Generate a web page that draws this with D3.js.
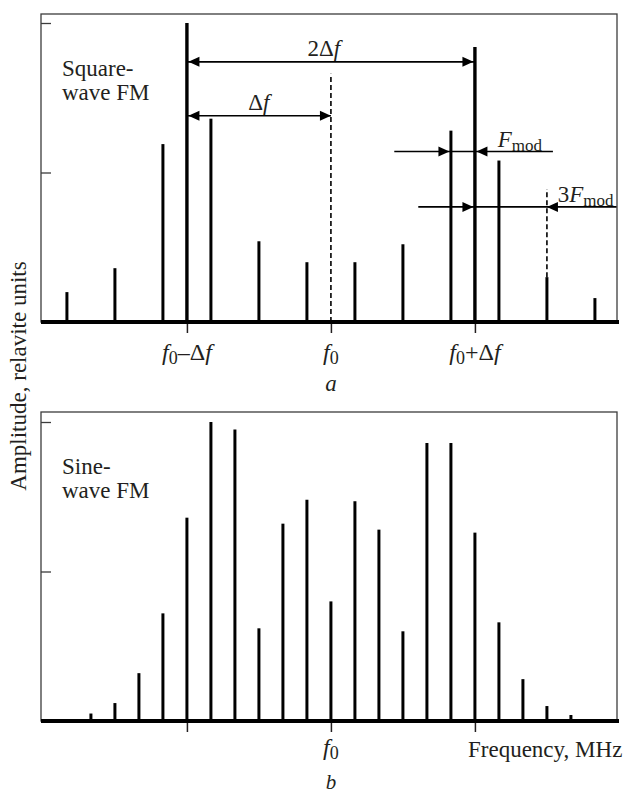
<!DOCTYPE html>
<html>
<head>
<meta charset="utf-8">
<script src="https://cdn.jsdelivr.net/npm/d3@7"></script>
<style>
  body { margin: 0; background: #fff; }
  svg { display: block; }
  text { font-family: "Liberation Serif", "DejaVu Serif", serif; fill: #231f20; }
</style>
</head>
<body>
<svg id="chart" width="625" height="794"></svg>
<script>
// harmonic numbers are in units of Fmod, f0 = 0, deviation = 6 Fmod
const squareHarm = [-11, -9, -7, -5, -3, -1, 1, 3, 5, 7, 9, 11];
const squareAmp = [0.10, 0.18, 0.595, 0.68, 0.27, 0.20, 0.20, 0.26, 0.64, 0.54, 0.15, 0.08];
const carrierHarm = [-6, 6];
const carrierAmp = [1.0, 0.92];

const sineHarm = [-10, -9, -8, -7, -6, -5, -4, -3, -2, -1, 0, 1, 2, 3, 4, 5, 6, 7, 8, 9, 10];
const sineAmp = [0.025, 0.06, 0.16, 0.36, 0.68, 1.0, 0.975, 0.31, 0.66, 0.74, 0.40,
                 0.735, 0.64, 0.30, 0.93, 0.93, 0.63, 0.33, 0.14, 0.05, 0.02];

const tickPos = [-6, 0, 6];
const topTickLabels = ["f0–Δf", "f0", "f0+Δf"];
const bottomTickLabels = ["", "f0", ""];
const ampTicks = [0.5, 1];

const svg = d3.select("#chart");
const left = 41, right = 617, plotH = 299;
const fs = 23;

const x = d3.scaleLinear().domain([-12.08, 11.92]).range([left, right]);

// writes "f0" style strings: f italic, 0 as subscript
function richText(sel, str, size) {
    let sub = false;
    for (const ch of str) {
        const t = sel.append("tspan").text(ch);
        if (ch === "0") {
            t.attr("font-size", size * 0.75).attr("dy", 4);
            sub = true;
        } else {
            if (sub) { t.attr("dy", -4); sub = false; }
            if (ch === "f") t.attr("font-style", "italic");
        }
    }
}

function panel(top, axisY, harm, amp, tickLabels, labelY) {
    const y = d3.scaleLinear().domain([0, 1]).range([axisY, axisY - plotH]);
    const g = svg.append("g");

    g.append("rect")
        .attr("x", left).attr("y", top)
        .attr("width", right - left).attr("height", axisY - top)
        .attr("fill", "none").attr("stroke", "#3c3c3c").attr("stroke-width", 1.3);

    const yAxis = g.append("g")
        .attr("transform", `translate(${left},0)`)
        .call(d3.axisRight(y).tickValues(ampTicks).tickSize(10).tickFormat(""));
    yAxis.select(".domain").remove();
    yAxis.selectAll("line").attr("stroke", "#3c3c3c").attr("stroke-width", 1.3);

    const xAxis = g.append("g")
        .attr("transform", `translate(0,${axisY})`)
        .call(d3.axisBottom(x).tickValues(tickPos).tickSize(11).tickFormat(""));
    xAxis.select(".domain").remove();
    xAxis.selectAll("line").attr("stroke", "#231f20").attr("stroke-width", 1.5);

    tickPos.forEach((p, i) => {
        if (!tickLabels[i]) return;
        const t = g.append("text")
            .attr("x", x(p)).attr("y", labelY)
            .attr("text-anchor", "middle")
            .attr("font-size", 24);
        richText(t, tickLabels[i], 24);
    });

    g.selectAll(".spec")
        .data(d3.zip(harm, amp))
        .enter().append("line")
        .attr("class", "spec")
        .attr("x1", d => x(d[0])).attr("x2", d => x(d[0]))
        .attr("y1", axisY).attr("y2", d => y(d[1]))
        .attr("stroke", "#000").attr("stroke-width", 3);

    return { g, y };
}

function arrowHead(g, tipX, yy, dir) {
    const len = 11, hw = 5;
    g.append("path")
        .attr("d", `M${tipX},${yy} L${tipX - dir * len},${yy - hw} L${tipX - dir * len},${yy + hw} Z`)
        .attr("fill", "#000");
}

function hline(g, x1, x2, yy) {
    g.append("line")
        .attr("x1", x1).attr("x2", x2).attr("y1", yy).attr("y2", yy)
        .attr("stroke", "#000").attr("stroke-width", 1.6);
}

// ---- panel a: square-wave FM
const a = panel(14, 322, squareHarm, squareAmp, topTickLabels, 360);
const ya = a.y;

a.g.selectAll(".carrier")
    .data(d3.zip(carrierHarm, carrierAmp))
    .enter().append("line")
    .attr("x1", d => x(d[0])).attr("x2", d => x(d[0]))
    .attr("y1", 322).attr("y2", d => ya(d[1]))
    .attr("stroke", "#000").attr("stroke-width", 3.4);

// dashed marker at f0 and at f0 + Δf + 3Fmod
a.g.append("line")
    .attr("x1", x(0)).attr("x2", x(0)).attr("y1", ya(0)).attr("y2", ya(0.83))
    .attr("stroke", "#000").attr("stroke-width", 1.6).attr("stroke-dasharray", "5,3");
a.g.append("line")
    .attr("x1", x(9)).attr("x2", x(9)).attr("y1", ya(0.15)).attr("y2", ya(0.445))
    .attr("stroke", "#000").attr("stroke-width", 1.6).attr("stroke-dasharray", "5,3");

// 2Δf
const y2df = ya(0.87);
hline(a.g, x(-6), x(6), y2df);
arrowHead(a.g, x(-6) + 1.5, y2df, -1);
arrowHead(a.g, x(6) - 1.5, y2df, 1);
a.g.append("text").attr("x", x(-0.3)).attr("y", y2df - 6)
    .attr("text-anchor", "middle").attr("font-size", fs)
    .call(t => { t.append("tspan").text("2Δ"); t.append("tspan").attr("font-style", "italic").text("f"); });

// Δf
const ydf = ya(0.69);
hline(a.g, x(-6), x(0), ydf);
arrowHead(a.g, x(-6) + 1.5, ydf, -1);
arrowHead(a.g, x(0), ydf, 1);
a.g.append("text").attr("x", x(-3)).attr("y", ydf - 6)
    .attr("text-anchor", "middle").attr("font-size", fs)
    .call(t => { t.append("tspan").text("Δ"); t.append("tspan").attr("font-style", "italic").text("f"); });

// Fmod
const yFm = ya(0.57);
hline(a.g, x(2.64), x(9.25), yFm);
arrowHead(a.g, x(5) - 1.5, yFm, 1);
arrowHead(a.g, x(6) + 1.5, yFm, -1);
a.g.append("text").attr("x", x(6.95)).attr("y", yFm - 5).attr("font-size", fs)
    .call(t => {
        t.append("tspan").attr("font-style", "italic").text("F");
        t.append("tspan").attr("font-size", 17).attr("dy", 4).text("mod");
    });

// 3Fmod
const y3Fm = ya(0.385);
hline(a.g, x(3.64), x(11.9), y3Fm);
arrowHead(a.g, x(6) - 1.5, y3Fm, 1);
arrowHead(a.g, x(9), y3Fm, -1);
a.g.append("text").attr("x", x(9.45)).attr("y", y3Fm - 5).attr("font-size", fs)
    .call(t => {
        t.append("tspan").text("3");
        t.append("tspan").attr("font-style", "italic").text("F");
        t.append("tspan").attr("font-size", 17).attr("dy", 4).text("mod");
    });

a.g.append("text").attr("x", 62).attr("y", 76).attr("font-size", fs)
    .call(t => {
        t.append("tspan").attr("x", 62).text("Square-");
        t.append("tspan").attr("x", 62).attr("dy", 24).text("wave FM");
    });

svg.append("text").attr("x", x(0)).attr("y", 391)
    .attr("text-anchor", "middle").attr("font-size", fs).attr("font-style", "italic").text("a");

// ---- panel b: sine-wave FM
const b = panel(412, 721, sineHarm, sineAmp, bottomTickLabels, 755);

b.g.append("text").attr("x", 62).attr("y", 474).attr("font-size", fs)
    .call(t => {
        t.append("tspan").attr("x", 62).text("Sine-");
        t.append("tspan").attr("x", 62).attr("dy", 24).text("wave FM");
    });

svg.append("text").attr("x", 468).attr("y", 757).attr("font-size", fs).text("Frequency, MHz");

svg.append("text").attr("x", x(0)).attr("y", 789)
    .attr("text-anchor", "middle").attr("font-size", 21).attr("font-style", "italic").text("b");

// thick baselines drawn last so they sit on top of the lines
[322, 721].forEach(yy => {
    svg.append("line")
        .attr("x1", left).attr("x2", right + 2).attr("y1", yy).attr("y2", yy)
        .attr("stroke", "#000").attr("stroke-width", 4);
});

svg.append("text")
    .attr("transform", "translate(26,376) rotate(-90)")
    .attr("text-anchor", "middle").attr("font-size", fs)
    .text("Amplitude, relavite units");
</script>
</body>
</html>
